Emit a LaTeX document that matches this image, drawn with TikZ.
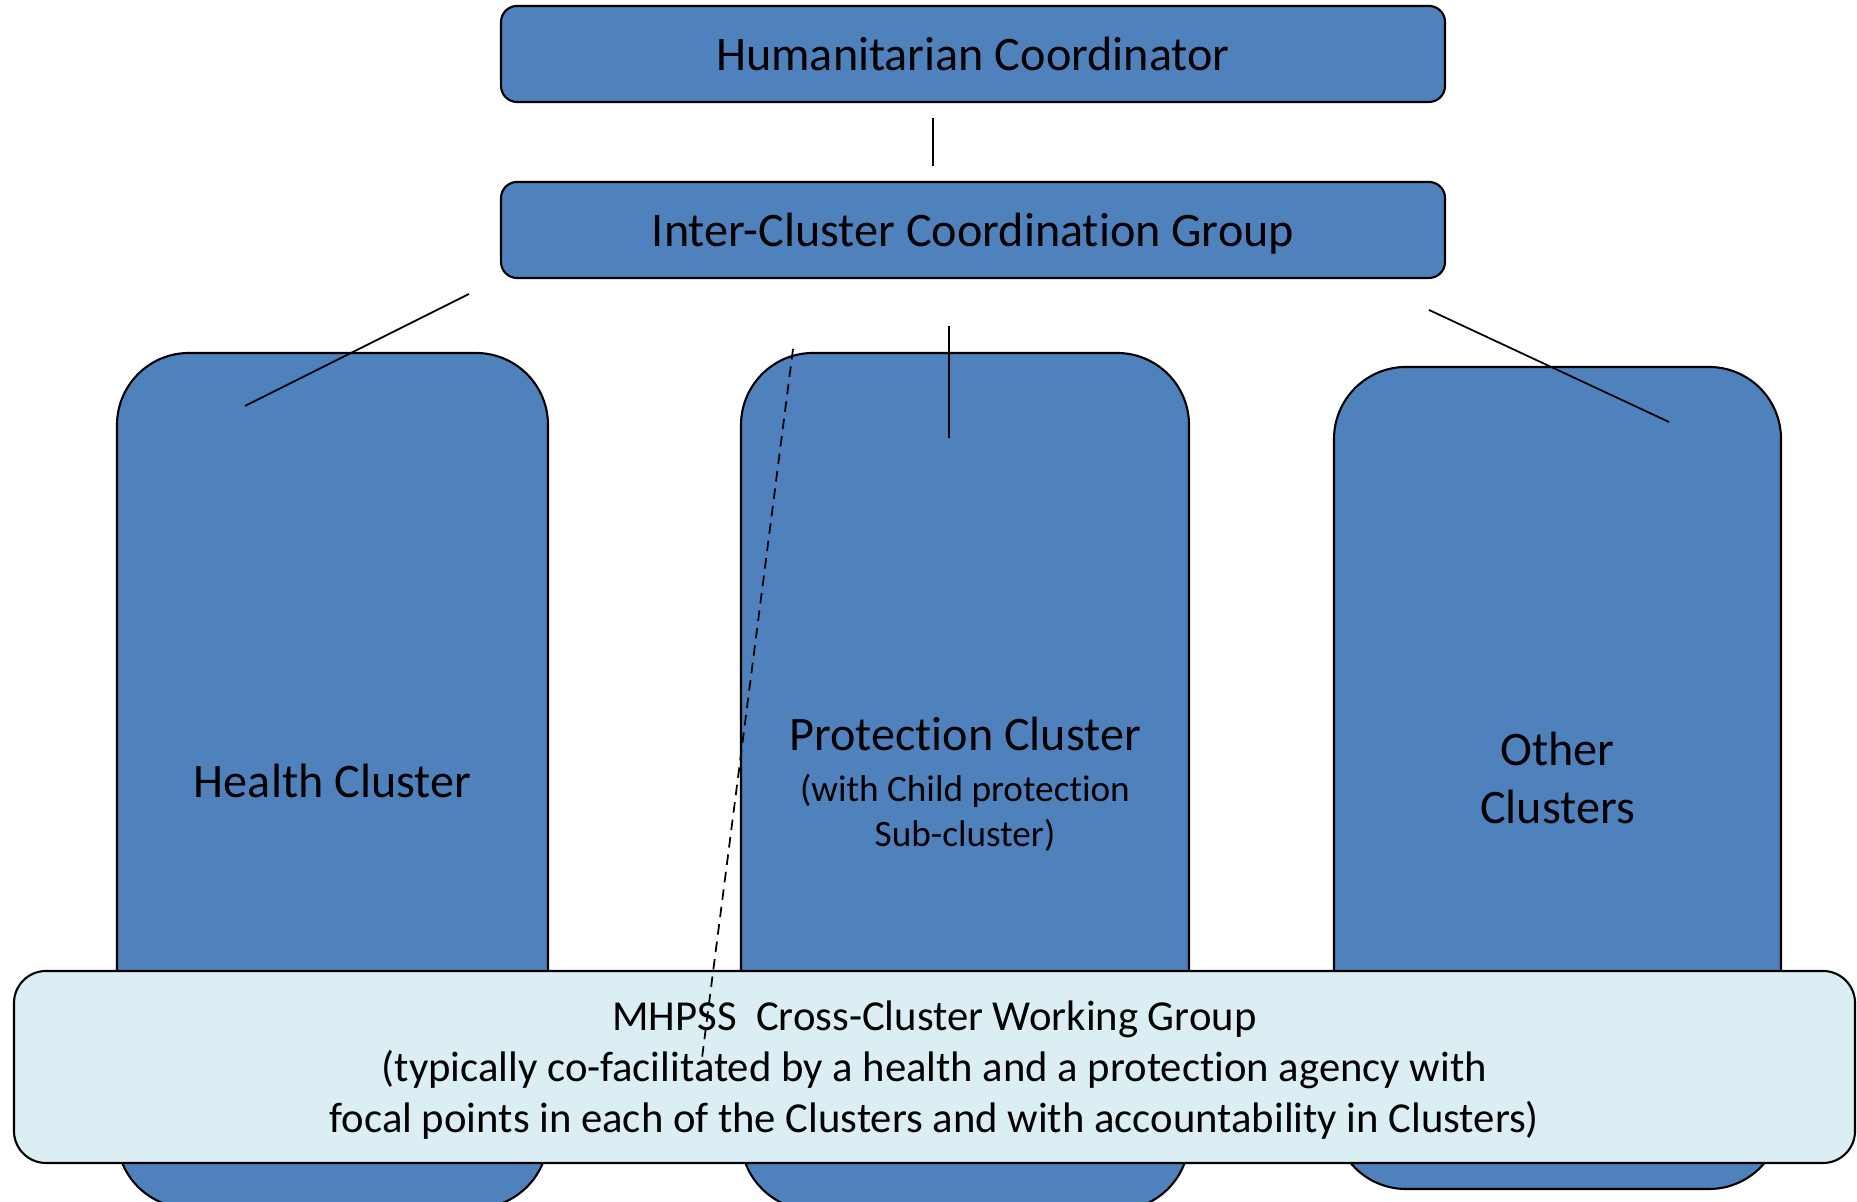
\documentclass[tikz,border=0pt]{standalone}
\usepackage{fontspec}
\setmainfont{Carlito}[Ligatures={NoCommon,NoContextual,NoRare}, Contextuals=NoAlternate]
\usepackage{xcolor}
\definecolor{clusterblue}{HTML}{4F81BD}
\definecolor{groupaqua}{HTML}{DAEEF3}

\begin{document}
\begin{tikzpicture}[
  coordbox/.style={rectangle, draw, line width=0.6pt, fill=clusterblue, rounded corners=0.16cm, minimum width=9.44cm, minimum height=0.96cm, text depth=0pt, font=\fontsize{13.7}{16.4}\selectfont},
  clusterbox/.style={rectangle, draw, line width=0.6pt, fill=clusterblue, rounded corners=0.72cm, align=center, text depth=0pt, font=\fontsize{13.7}{16.4}\selectfont},
  link/.style={line width=0.5pt}
]
\clip (0,0) rectangle (18.57,12.02);

\node[coordbox] (hc) at (9.73,11.48) {Humanitarian Coordinator};
\node[coordbox] (iccg) at (9.73,9.72) {Inter-Cluster Coordination Group};

\node[clusterbox, minimum width=4.31cm, minimum height=8.55cm] (health) at (3.325,4.215) {Health Cluster};
\node[clusterbox, minimum width=4.48cm, minimum height=8.57cm, font=\fontsize{10.6}{12.6}\selectfont] (protection) at (9.65,4.205) {{\fontsize{13.7}{16.4}\selectfont Protection Cluster}\\[2pt](with Child protection\\Sub-cluster)};
\node[clusterbox, minimum width=4.47cm, minimum height=8.22cm] (other) at (15.575,4.24) {Other\\Clusters};

\node[rectangle, draw, line width=0.6pt, fill=groupaqua, rounded corners=0.32cm, minimum width=18.41cm, minimum height=1.92cm, align=center, text depth=0pt, font=\fontsize{12.15}{14.5}\selectfont] (mhpss) at (9.345,1.35) {MHPSS~~Cross-Cluster Working Group\\(typically co-facilitated by a health and a protection agency with\\focal points in each of the Clusters and with accountability in Clusters)};

% free-standing links
\coordinate (hcA) at (9.33,10.84);
\coordinate (hcB) at (9.33,10.36);
\coordinate (healthA) at (4.69,9.08);
\coordinate (healthB) at (2.45,7.96);
\coordinate (protA) at (9.49,8.76);
\coordinate (protB) at (9.49,7.64);
\coordinate (otherA) at (14.29,8.92);
\coordinate (otherB) at (16.69,7.80);
\coordinate (dashA) at (7.93,8.53);
\coordinate (dashB) at (7.02,1.44);

\draw[link] (hcA) -- (hcB);
\draw[link] (healthA) -- (healthB);
\draw[link] (protA) -- (protB);
\draw[link] (otherA) -- (otherB);
\draw[link, dash pattern=on 3pt off 2pt] (dashA) -- (dashB);
\end{tikzpicture}
\end{document}
